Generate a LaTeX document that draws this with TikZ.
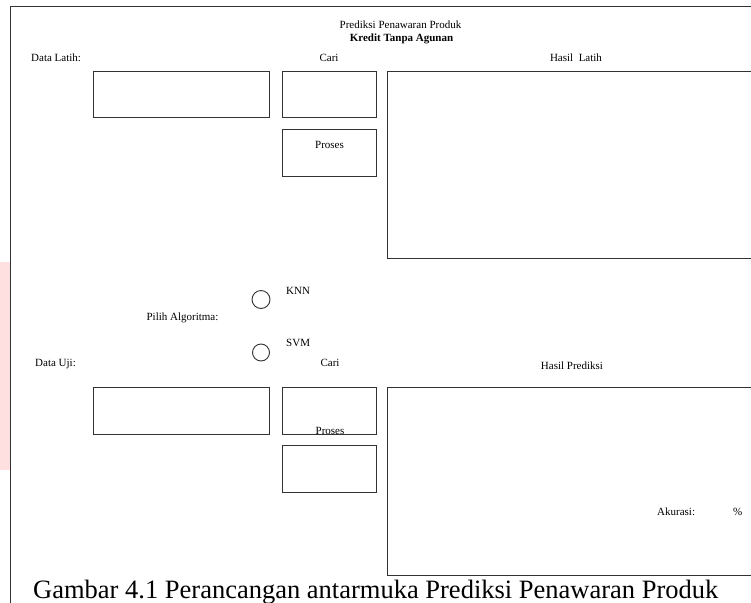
\documentclass[tikz,border=0pt]{standalone}
\usepackage{fontspec}
\setmainfont{Liberation Serif}
\begin{document}
\begin{tikzpicture}[x=1pt,y=-1pt,font=\fontsize{11}{13}\selectfont,
  box/.style={draw=black!80,line width=0.9pt},
  lbl/.style={inner sep=0pt,anchor=base},
  lblw/.style={inner sep=0pt,anchor=base west}]
\useasboundingbox (0,0) rectangle (751,602);
\clip (0,0) rectangle (751,602);
\fill[red!12] (0,262) rectangle (9.5,470);
\draw [box] (10,6) rectangle (800,700);

% bagian data latih
\draw [box] (93,71) rectangle (269,117);
\draw [box] (282,71) rectangle (376,117);
\draw [box] (282,129) rectangle (376,176);
\draw [box] (387,71) rectangle (800,258);

\node[lbl] (judul) at (400.5,28.3) {Prediksi Penawaran Produk};
\node[lbl,font=\fontsize{11}{13}\selectfont\bfseries] (subjudul) at (401.5,41.7) {Kredit Tanpa Agunan};
\node[lblw] (latih) at (31,61.7) {Data Latih:};
\node[lbl] (cari1) at (329,61.7) {Cari};
\node[lbl] (hasillatih) at (576,62) {Hasil\ \ Latih};
\node[lbl] (proses1) at (329.5,148.3) {Proses};

% pilihan algoritma
\draw [box] (261,299.5) circle (9);
\draw [box] (261,352.5) circle (8.5);
\node[lblw] (knn) at (286,294) {KNN};
\node[lblw] (svm) at (286,346) {SVM};
\node[lbl] (pilih) at (182.5,320.5) {Pilih Algoritma:};

% bagian data uji
\draw [box] (93,387.3) rectangle (269,434);
\draw [box] (282,387.3) rectangle (376,434);
\draw [box] (282,445.7) rectangle (376,492.3);
\draw [box] (387,387.3) rectangle (800,575);

\node[lblw] (uji) at (35,366) {Data Uji:};
\node[lbl] (cari2) at (330,366) {Cari};
\node[lbl] (hasilprediksi) at (572,369) {Hasil Prediksi};
\node[lbl] (proses2) at (330,434) {Proses};
\node[lblw] (akurasi) at (657,515) {Akurasi:};
\node[lblw] (persen) at (733,515) {\%};

\node[lblw,font=\fontsize{26.5}{30}\selectfont] (caption) at (33,598.5)
  {Gambar 4.1 Perancangan antarmuka Prediksi Penawaran Produk};
\end{tikzpicture}
\end{document}
